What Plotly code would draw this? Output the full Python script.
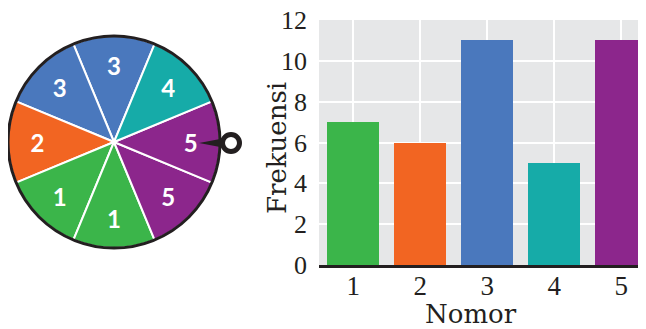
import plotly.graph_objects as go

# spinner slices, counterclockwise starting from 12 o'clock
spinner_numbers = ["3", "3", "2", "1", "1", "5", "5", "4"]
spinner_colors = ["#4a78bd", "#4a78bd", "#f26522", "#3bb54a", "#3bb54a",
                  "#8c268c", "#8c268c", "#16aba8"]
spinner_sizes = [1, 1, 1, 1, 1, 1, 1, 1]

# result of the spins
nomor = [1, 2, 3, 4, 5]
frekuensi = [7, 6, 11, 5, 11]
bar_colors = ["#3bb54a", "#f26522", "#4a78bd", "#16aba8", "#8c268c"]
y_ticks = [0, 2, 4, 6, 8, 10, 12]

# the page puts the plot 8px in from the top-left corner
OFF = 8
W, H = 646 - OFF, 329 - OFF


def px(x):
    return (x - OFF) / W


def py(y):
    return 1 - (y - OFF) / H


SERIF = "DejaVu Serif"
TICK_FONT = "Liberation Serif"
INK = "#231f20"

fig = go.Figure()

# ── spinner wheel ─────────────────────
cx, cy, r = 114, 142, 106
fig.add_trace(go.Pie(
    values=spinner_sizes,
    text=spinner_numbers,
    textinfo="text",
    textposition="inside",
    insidetextorientation="horizontal",
    textfont=dict(family="Lato", size=24, color="white", weight="bold"),
    marker=dict(colors=spinner_colors, line=dict(color="white", width=2)),
    sort=False,
    direction="counterclockwise",
    rotation=-22.5,
    showlegend=False,
    hoverinfo="skip",
    domain=dict(x=[px(cx - r), px(cx + r)], y=[py(cy + r), py(cy - r)]),
))

# ── bar chart ─────────────────────────
fig.add_trace(go.Bar(
    x=nomor,
    y=frekuensi,
    marker=dict(color=bar_colors, line=dict(width=0)),
    width=0.78,
    showlegend=False,
    hoverinfo="skip",
))

shapes = [
    # outer rim of the wheel
    dict(type="circle", xref="paper", yref="paper",
         x0=px(cx - r), x1=px(cx + r), y0=py(cy + r), y1=py(cy - r),
         line=dict(color=INK, width=3)),
    # pointer
    dict(type="path", xref="paper", yref="paper",
         path=f"M {px(199)} {py(143)} L {px(228)} {py(137.5)} L {px(228)} {py(148.5)} Z",
         fillcolor=INK, line=dict(width=0)),
    dict(type="circle", xref="paper", yref="paper",
         x0=px(222.5), x1=px(239.5), y0=py(151.5), y1=py(134.5),
         fillcolor="white", line=dict(color=INK, width=5)),
]

fig.update_layout(
    width=W,
    height=H,
    margin=dict(l=0, r=0, t=0, b=0),
    paper_bgcolor="white",
    plot_bgcolor="#e6e7e8",
    font=dict(family=SERIF, color=INK),
    bargap=0,
    shapes=shapes,
    xaxis=dict(
        domain=[px(319), 1],
        range=[0.49, 5.37],
        tickvals=nomor,
        ticks="",
        ticklabelstandoff=-5,
        ticklabeloverflow="allow",
        showgrid=True,
        gridcolor="white",
        gridwidth=2,
        showline=True,
        linecolor=INK,
        linewidth=3,
        zeroline=False,
        tickfont=dict(family=TICK_FONT, size=27),
        automargin=False,
        fixedrange=True,
    ),
    yaxis=dict(
        domain=[py(265), py(20)],
        range=[0, 12],
        tickvals=y_ticks,
        ticks="",
        ticklabelstandoff=11,
        ticklabeloverflow="allow",
        showgrid=True,
        gridcolor="white",
        gridwidth=2,
        zeroline=False,
        tickfont=dict(family=TICK_FONT, size=26),
        automargin=False,
        fixedrange=True,
    ),
    annotations=[
        dict(text="Frekuensi", textangle=-90, showarrow=False,
             xref="paper", yref="paper", x=px(277), y=py(148),
             xanchor="center", yanchor="middle",
             font=dict(family=SERIF, size=26, color=INK)),
        dict(text="Nomor", showarrow=False,
             xref="paper", yref="paper", x=px(471), y=py(314),
             xanchor="center", yanchor="middle",
             font=dict(family=SERIF, size=26, color=INK)),
    ],
)

fig.write_html("out.html")
